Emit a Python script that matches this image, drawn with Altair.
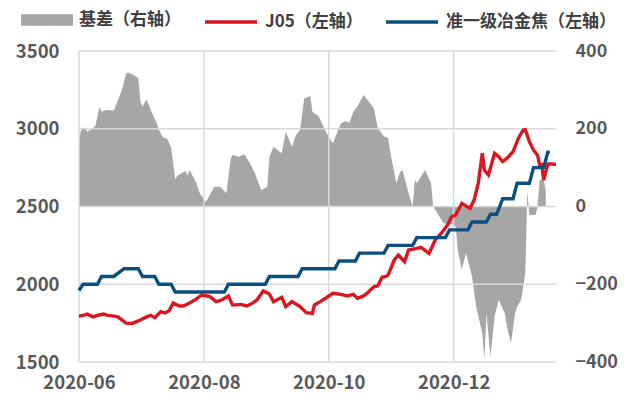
import altair as alt
import pandas as pd

# ---------------- data ----------------
basis_dates = ["2020-06-01","2020-06-02","2020-06-04","2020-06-05","2020-06-07","2020-06-09","2020-06-11","2020-06-12",
               "2020-06-14","2020-06-18","2020-06-22","2020-06-24","2020-06-25","2020-06-27","2020-06-30","2020-07-01",
               "2020-07-02","2020-07-04","2020-07-06","2020-07-09","2020-07-10","2020-07-12","2020-07-14","2020-07-16",
               "2020-07-18","2020-07-19","2020-07-23","2020-07-24","2020-07-25","2020-07-28","2020-07-30","2020-08-02",
               "2020-08-04","2020-08-06","2020-08-09","2020-08-12","2020-08-14","2020-08-15","2020-08-18","2020-08-20",
               "2020-08-21","2020-08-24","2020-08-26","2020-08-29","2020-09-01","2020-09-02","2020-09-04","2020-09-08",
               "2020-09-10","2020-09-13","2020-09-15","2020-09-17","2020-09-19","2020-09-22","2020-09-23","2020-09-26",
               "2020-09-30","2020-10-03","2020-10-07","2020-10-09","2020-10-11","2020-10-13","2020-10-15","2020-10-18",
               "2020-10-20","2020-10-23","2020-10-25","2020-10-28","2020-10-30","2020-10-31","2020-11-03","2020-11-05",
               "2020-11-06","2020-11-09","2020-11-11","2020-11-12","2020-11-13","2020-11-17","2020-11-20","2020-11-21",
               "2020-11-23","2020-11-26","2020-11-30","2020-12-02","2020-12-03","2020-12-05","2020-12-07","2020-12-10",
               "2020-12-12","2020-12-15","2020-12-16","2020-12-17","2020-12-19","2020-12-21","2020-12-23","2020-12-26",
               "2020-12-27","2020-12-29","2020-12-31","2021-01-01","2021-01-03","2021-01-05","2021-01-06","2021-01-07",
               "2021-01-10","2021-01-11","2021-01-12","2021-01-14","2021-01-15"]
basis_vals = [171,197,204,192,199,207,257,244,
              248,247,300,343,345,340,330,270,
              257,276,248,214,197,178,175,152,
              70,79,91,79,94,64,34,12,
              30,51,51,34,120,133,128,133,
              133,107,85,42,51,128,154,137,
              192,154,184,197,278,284,244,233,
              188,163,214,220,215,244,257,287,
              274,253,201,180,176,141,60,90,
              93,34,0,68,60,94,60,0,
              -17,-43,-45,-52,-112,-163,-120,-180,
              -257,-326,-395,-275,-386,-283,-240,-275,
              -309,-352,-275,-258,-240,-172,40,-22,
              -22,0,68,68,40]

j05_dates = ["2020-06-01","2020-06-03","2020-06-05","2020-06-08","2020-06-10","2020-06-13","2020-06-15","2020-06-18",
             "2020-06-20","2020-06-24","2020-06-27","2020-06-30","2020-07-04","2020-07-06","2020-07-08","2020-07-11",
             "2020-07-13","2020-07-15","2020-07-17","2020-07-20","2020-07-22","2020-07-25","2020-07-28","2020-07-31",
             "2020-08-04","2020-08-07","2020-08-10","2020-08-13","2020-08-15","2020-08-19","2020-08-22","2020-08-25",
             "2020-08-27","2020-08-30","2020-09-02","2020-09-04","2020-09-08","2020-09-10","2020-09-13","2020-09-17",
             "2020-09-20","2020-09-23","2020-09-24","2020-09-27","2020-09-30","2020-10-03","2020-10-07","2020-10-10",
             "2020-10-13","2020-10-15","2020-10-18","2020-10-20","2020-10-23","2020-10-25","2020-10-27","2020-10-29",
             "2020-10-30","2020-11-02","2020-11-04","2020-11-07","2020-11-09","2020-11-13","2020-11-15","2020-11-19",
             "2020-11-22","2020-11-25","2020-11-28","2020-11-30","2020-12-02","2020-12-05","2020-12-07","2020-12-09",
             "2020-12-11","2020-12-13","2020-12-15","2020-12-16","2020-12-18","2020-12-21","2020-12-23","2020-12-25",
             "2020-12-27","2020-12-30","2021-01-01","2021-01-02","2021-01-04","2021-01-05","2021-01-07","2021-01-09",
             "2021-01-11","2021-01-12","2021-01-13","2021-01-14","2021-01-16","2021-01-18","2021-01-20"]
j05_vals = [1795,1800,1808,1790,1800,1808,1800,1795,
            1790,1750,1748,1764,1790,1800,1785,1824,
            1815,1830,1879,1860,1860,1879,1903,1931,
            1920,1888,1900,1925,1866,1870,1860,1880,
            1900,1957,1937,1888,1916,1856,1888,1856,
            1817,1813,1867,1890,1915,1942,1935,1925,
            1935,1910,1925,1945,1984,1990,2045,2050,
            2060,2156,2188,2145,2220,2231,2237,2199,
            2285,2328,2381,2434,2445,2520,2503,2488,
            2542,2649,2842,2735,2703,2842,2820,2788,
            2810,2852,2917,2949,2992,2994,2917,2863,
            2830,2767,2770,2670,2773,2773,2770]

coke_dates = ["2020-06-01","2020-06-03","2020-06-10","2020-06-12","2020-06-18","2020-06-23","2020-06-30","2020-07-02",
              "2020-07-08","2020-07-10","2020-07-16","2020-07-18","2020-08-11","2020-08-13","2020-08-31","2020-09-02",
              "2020-09-16","2020-09-18","2020-10-04","2020-10-06","2020-10-14","2020-10-16","2020-10-28","2020-10-30",
              "2020-11-11","2020-11-13","2020-11-27","2020-11-29","2020-12-08","2020-12-10","2020-12-17","2020-12-19",
              "2020-12-22","2020-12-25","2020-12-30","2021-01-01","2021-01-07","2021-01-09","2021-01-14","2021-01-16",
              "2021-01-17"]
coke_vals = [1960,2000,2000,2050,2050,2100,2100,2050,
             2050,2000,2000,1950,1950,2000,2000,2050,
             2050,2100,2100,2150,2150,2200,2200,2250,
             2250,2300,2300,2350,2350,2400,2400,2450,
             2450,2550,2550,2650,2650,2750,2750,2850,
             2850]

left_ticks = [1500, 2000, 2500, 3000, 3500]
right_ticks = [-400, -200, 0, 200, 400]
x_ticks = ["2020-06-01", "2020-08-01", "2020-10-01", "2020-12-01"]
x_domain = ["2020-06-01", "2021-01-20"]

S_BASIS = "基差（右轴）"
S_J05 = "J05（左轴）"
S_COKE = "准一级冶金焦（左轴）"

# ---------------- style ----------------
FONT = "Noto Sans CJK SC"
LABEL_COLOR = "#595959"
LEGEND_COLOR = "#404040"
GRID = "#D9D9D9"
RED = "#DA1720"
BLUE = "#0B4F7F"
GRAY = "#A6A6A6"


def dt(s):
    t = pd.Timestamp(s)
    return alt.DateTime(year=t.year, month=t.month, date=t.day, utc=True)


basis_df = pd.DataFrame({"date": basis_dates, "v": basis_vals, "s": S_BASIS})
lines_df = pd.concat([
    pd.DataFrame({"date": j05_dates, "v": j05_vals, "s": S_J05}),
    pd.DataFrame({"date": coke_dates, "v": coke_vals, "s": S_COKE}),
], ignore_index=True)
hgrid_df = pd.DataFrame({"v": left_ticks})
vgrid_df = pd.DataFrame({"date": x_ticks})

x_scale = alt.Scale(type="utc", domain=[dt(x_domain[0]), dt(x_domain[1])])
x_axis = alt.Axis(values=[dt(t) for t in x_ticks], format="%Y-%m", labelFont=FONT, labelFontSize=18.5,
                  labelFontWeight="bold", labelColor=LABEL_COLOR, grid=False, domain=False, ticks=False,
                  labelFlush=False, labelPadding=11, title=None)
x_enc = alt.X("date:T", scale=x_scale, axis=x_axis)

left_scale = alt.Scale(domain=[1500, 3500], nice=False, zero=False)
left_axis = alt.Axis(orient="left", values=left_ticks, format="d", labelFont=FONT, labelFontSize=18.5,
                     labelFontWeight="bold", labelColor=LABEL_COLOR, grid=False, domain=False, ticks=False,
                     labelPadding=20, title=None)
right_scale = alt.Scale(domain=[-400, 400], nice=False, zero=False)
right_axis = alt.Axis(orient="right", values=right_ticks, format="d", labelFont=FONT, labelFontSize=18,
                      labelFontWeight="bold", labelColor=LABEL_COLOR, grid=False, domain=False, ticks=False,
                      labelPadding=19, title=None)

area = alt.Chart(basis_df).mark_area(interpolate="linear").encode(
    x=x_enc,
    y=alt.Y("v:Q", scale=right_scale, axis=right_axis),
    y2=alt.datum(0),
    fill=alt.Fill("s:N", scale=alt.Scale(domain=[S_BASIS], range=[GRAY]),
                  legend=alt.Legend(orient="none", legendX=-58, legendY=-57, title=None,
                                    symbolType="M-1,-0.22H1V0.22H-1Z", symbolSize=2704, symbolStrokeWidth=0,
                                    labelFont=FONT, labelFontSize=17, labelFontWeight="bold", labelLimit=400,
                                    labelColor=LEGEND_COLOR, labelOffset=6)),
)

hgrid = alt.Chart(hgrid_df).mark_rule(color=GRID, strokeWidth=1.5).encode(
    y=alt.Y("v:Q", scale=left_scale, axis=left_axis)
)
vgrid = alt.Chart(vgrid_df).mark_rule(color=GRID, strokeWidth=1.5).encode(x=x_enc)

lines = alt.Chart(lines_df).mark_line(strokeWidth=3.4).encode(
    x=x_enc,
    y=alt.Y("v:Q", scale=left_scale, axis=left_axis),
    stroke=alt.Stroke("s:N", scale=alt.Scale(domain=[S_J05, S_COKE], range=[RED, BLUE]),
                      legend=alt.Legend(orient="none", direction="horizontal", legendX=124, legendY=-57,
                                        title=None, symbolType="stroke", symbolSize=2704, symbolStrokeWidth=3.5,
                                        columnPadding=16, labelFont=FONT, labelFontSize=17, labelLimit=400,
                                        labelFontWeight="bold", labelColor=LEGEND_COLOR, labelOffset=6)),
)

inner = alt.layer(hgrid, vgrid, lines)

chart = alt.layer(area, inner).resolve_scale(y="independent").properties(
    width=477, height=311,
    autosize=alt.AutoSizeParams(type="none"),
    padding={"left": 71, "top": 43, "right": 63, "bottom": 33},
    background="white",
).configure_view(stroke="transparent")

chart.save("out.html", embed_options={"renderer": "svg", "actions": False})
